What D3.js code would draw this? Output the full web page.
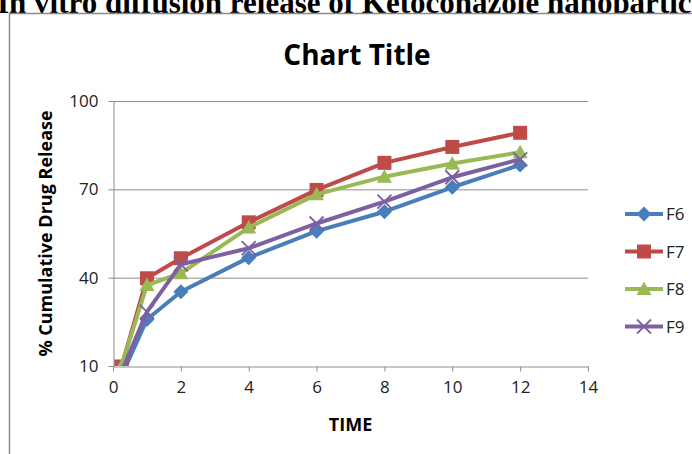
<!DOCTYPE html>
<html>
<head>
<meta charset="utf-8">
<script src="https://cdn.jsdelivr.net/npm/d3@7"></script>
<style>
  html, body { margin: 0; padding: 0; background: #fff; }
  svg { display: block; }
</style>
</head>
<body>
<svg id="chart" width="692" height="454"></svg>
<script>
// Sampling times (h)
const times = [0.25, 1, 2, 4, 6, 8, 10, 12];
// % cumulative drug release per formulation
const f6 = [6.6, 25.8, 35.2, 46.8, 55.8, 62.4, 70.7, 78.3];
const f7 = [9.8, 39.8, 46.6, 58.8, 69.8, 79.0, 84.4, 89.2];
const f8 = [10.0, 37.5, 41.5, 57.0, 68.3, 74.3, 78.8, 82.6];
const f9 = [8.0, 28.4, 44.5, 50.0, 58.4, 65.8, 74.1, 80.2];
const seriesNames = ["F6", "F7", "F8", "F9"];
const seriesColors = ["#4a7ebb", "#be4b48", "#98b954", "#7d60a0"];
const seriesShapes = ["diamond", "square", "triangle", "cross"];
const xTicks = [0, 2, 4, 6, 8, 10, 12, 14];
const yTicks = [10, 40, 70, 100];

const series = seriesNames.map((name, i) => ({
  name, color: seriesColors[i], shape: seriesShapes[i],
  values: [f6, f7, f8, f9][i].map((v, j) => ({ t: times[j], v }))
}));

const svg = d3.select("#chart");
const font = "'Open Sans', Calibri, sans-serif";

// Document caption above the chart frame
svg.append("text")
  .attr("x", -3).attr("y", 13)
  .attr("font-family", "'Liberation Serif', 'Times New Roman', serif")
  .attr("font-weight", "bold").attr("font-size", 31)
  .attr("fill", "#000")
  .text("In vitro diffusion release of Ketoconazole nanoparticles");

// Chart frame
svg.append("rect")
  .attr("x", 9.5).attr("y", 13.5).attr("width", 700).attr("height", 460)
  .attr("fill", "#fff").attr("stroke", "#8a8a8a").attr("stroke-width", 1.5);

const x = d3.scaleLinear().domain([0, 14]).range([113, 588]);
const y = d3.scaleLinear().domain([10, 100]).range([366, 101]);

// Chart title
svg.append("text")
  .attr("x", 357).attr("y", 65)
  .attr("text-anchor", "middle")
  .attr("font-family", font).attr("font-weight", "bold").attr("font-size", 28)
  .attr("fill", "#000")
  .text("Chart Title");

// Horizontal gridlines
svg.append("g").selectAll("line")
  .data(yTicks.filter(d => d !== 10))
  .join("line")
  .attr("x1", x(0)).attr("x2", x(14))
  .attr("y1", d => y(d) + 0.5).attr("y2", d => y(d) + 0.5)
  .attr("stroke", "#8c8c8c").attr("stroke-width", 1);

// Axes
const xAxis = svg.append("g")
  .attr("transform", `translate(0,${y(10) + 0.5})`)
  .call(d3.axisBottom(x).tickValues(xTicks).tickSizeInner(5).tickSizeOuter(0).tickPadding(9));
const yAxis = svg.append("g")
  .attr("transform", `translate(${x(0) + 0.5},0)`)
  .call(d3.axisLeft(y).tickValues(yTicks).tickSizeInner(5).tickSizeOuter(0).tickPadding(10));

[xAxis, yAxis].forEach(g => {
  g.select(".domain").attr("stroke", "#8c8c8c").attr("stroke-width", 1);
  g.selectAll(".tick line").attr("stroke", "#8c8c8c");
  g.selectAll(".tick text")
    .attr("font-family", font).attr("font-size", 17).attr("fill", "#222");
});

// Axis titles
svg.append("text")
  .attr("x", x(7)).attr("y", 431)
  .attr("text-anchor", "middle")
  .attr("font-family", font).attr("font-weight", "bold").attr("font-size", 18)
  .attr("fill", "#000")
  .text("TIME");
svg.append("text")
  .attr("transform", `translate(52,${(y(10) + y(100)) / 2}) rotate(-90)`)
  .attr("text-anchor", "middle")
  .attr("font-family", font).attr("font-weight", "bold").attr("font-size", 18)
  .attr("fill", "#000")
  .text("% Cumulative Drug Release");

// Clip region for the plotted data
svg.append("clipPath").attr("id", "plot-clip")
  .append("rect").attr("x", x(0)).attr("y", y(100) - 10)
  .attr("width", x(14) - x(0) + 10).attr("height", y(10) - y(100) + 10);

function markerPath(shape, px, py) {
  const p = d3.path();
  if (shape === "diamond") {
    const r = 7.5;
    p.moveTo(px, py - r); p.lineTo(px + r, py); p.lineTo(px, py + r); p.lineTo(px - r, py); p.closePath();
  } else if (shape === "square") {
    const r = 7;
    p.rect(px - r, py - r, 2 * r, 2 * r);
  } else if (shape === "triangle") {
    const r = 7.5;
    p.moveTo(px, py - r); p.lineTo(px + r, py + r * 0.8); p.lineTo(px - r, py + r * 0.8); p.closePath();
  } else {
    const r = 7;
    p.moveTo(px - r, py - r); p.lineTo(px + r, py + r);
    p.moveTo(px - r, py + r); p.lineTo(px + r, py - r);
  }
  return p.toString();
}

function drawMarker(g, s, px, py) {
  const m = g.append("path").attr("d", markerPath(s.shape, px, py));
  if (s.shape === "cross") {
    m.attr("stroke", s.color).attr("stroke-width", 1.8).attr("fill", "none");
  } else {
    m.attr("fill", s.color);
  }
}

const line = d3.line().x(d => x(d.t)).y(d => y(d.v));
const plot = svg.append("g").attr("clip-path", "url(#plot-clip)");

series.forEach(s => {
  const g = plot.append("g");
  g.append("path")
    .datum(s.values)
    .attr("d", line)
    .attr("fill", "none")
    .attr("stroke", s.color).attr("stroke-width", 4)
    .attr("stroke-linejoin", "round");
  s.values.forEach(d => drawMarker(g, s, x(d.t), y(d.v)));
});

// Legend
const legend = svg.append("g");
series.forEach((s, i) => {
  const ly = 214 + i * 37.5;
  const g = legend.append("g");
  g.append("line")
    .attr("x1", 625).attr("x2", 663).attr("y1", ly).attr("y2", ly)
    .attr("stroke", s.color).attr("stroke-width", 4);
  drawMarker(g, s, 644, ly);
  g.append("text")
    .attr("x", 666).attr("y", ly + 6)
    .attr("font-family", font).attr("font-size", 17).attr("fill", "#222")
    .text(s.name);
});
</script>
</body>
</html>
